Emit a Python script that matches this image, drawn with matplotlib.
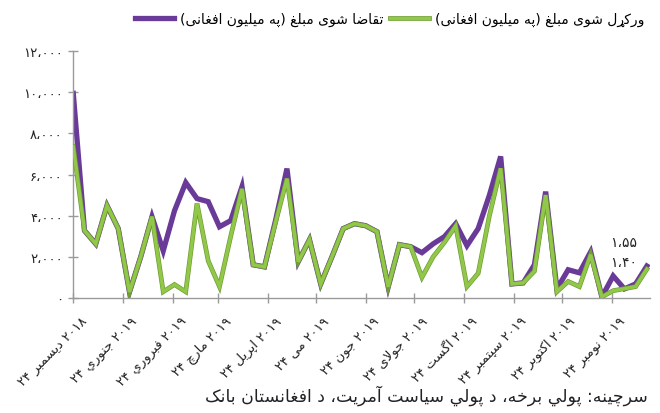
import matplotlib

matplotlib.use("Agg")
import matplotlib.dates as mdates  # noqa: E402
import matplotlib.patheffects as pe  # noqa: E402
import matplotlib.pyplot as plt  # noqa: E402
import pandas as pd  # noqa: E402
from matplotlib.lines import Line2D  # noqa: E402
from matplotlib.transforms import ScaledTranslation  # noqa: E402

plt.rcParams["font.family"] = ["DejaVu Sans"]

# weekly auctions, million Afghani
dates = pd.date_range("2018-12-24", periods=52, freq="7D")
requested = [9950, 3270, 2630, 4490, 3370, 290, 2000, 3950, 2290, 4240, 5610, 4830, 4680,
             3460, 3760, 5410, 1610, 1510, 3800, 6290, 1760, 2830, 680, 2000, 3370, 3610,
             3510, 3220, 540, 2590, 2490, 2200, 2630, 2980, 3610, 2540, 3370, 5000, 6880,
             680, 730, 1610, 5170, 440, 1370, 1220, 2240, 50, 1070, 440, 680, 1550]
disbursed = [7370, 3270, 2630, 4490, 3370, 290, 2000, 3950, 300, 650, 300, 4600, 1800,
             550, 3000, 5300, 1610, 1510, 3700, 5800, 1760, 2830, 680, 2000, 3370, 3610,
             3510, 3220, 540, 2590, 2490, 1000, 2000, 2700, 3500, 550, 1200, 4000, 6300,
             680, 730, 1300, 5000, 300, 800, 550, 2100, 50, 350, 450, 550, 1400]
end_labels = ["۱،۵۵", "۱،۴۰"]

tick_dates = pd.date_range("2018-12-01", periods=12, freq="MS") + pd.Timedelta(days=23)
tick_months = ["دیسمبر", "جنوري", "فبروري", "مارچ", "اپریل", "می", "جون", "جولای",
               "اگست", "سپتمبر", "اکتوبر", "نومبر"]
tick_years = ["۲۰۱۸"] + ["۲۰۱۹"] * 11
tick_day = "۲۴"
y_ticks = [0, 2000, 4000, 6000, 8000, 10000, 12000]
y_ticklabels = ["۰", "۲،۰۰۰", "۴،۰۰۰", "۶،۰۰۰", "۸،۰۰۰", "۱۰،۰۰۰", "۱۲،۰۰۰"]

label_req = "تقاضا شوی مبلغ (په میلیون افغانی)"
label_dis = "ورکړل شوی مبلغ (په میلیون افغانی)"
source = "سرچینه: پولي برخه، د پولي سیاست آمریت، د افغانستان بانک"

# --- minimal Arabic shaping (isolated, final, initial, medial) ---
FORMS = {
    "ا": ("\ufe8d", "\ufe8e", None, None),
    "آ": ("\ufe81", "\ufe82", None, None),
    "د": ("\ufea9", "\ufeaa", None, None),
    "ر": ("\ufead", "\ufeae", None, None),
    "ړ": ("\u0693", "\u0693", None, None),
    "و": ("\ufeed", "\ufeee", None, None),
    "ب": ("\ufe8f", "\ufe90", "\ufe91", "\ufe92"),
    "پ": ("\ufb56", "\ufb57", "\ufb58", "\ufb59"),
    "ت": ("\ufe95", "\ufe96", "\ufe97", "\ufe98"),
    "ج": ("\ufe9d", "\ufe9e", "\ufe9f", "\ufea0"),
    "چ": ("\ufb7a", "\ufb7b", "\ufb7c", "\ufb7d"),
    "خ": ("\ufea5", "\ufea6", "\ufea7", "\ufea8"),
    "س": ("\ufeb1", "\ufeb2", "\ufeb3", "\ufeb4"),
    "ش": ("\ufeb5", "\ufeb6", "\ufeb7", "\ufeb8"),
    "ض": ("\ufebd", "\ufebe", "\ufebf", "\ufec0"),
    "غ": ("\ufecd", "\ufece", "\ufecf", "\ufed0"),
    "ف": ("\ufed1", "\ufed2", "\ufed3", "\ufed4"),
    "ق": ("\ufed5", "\ufed6", "\ufed7", "\ufed8"),
    "ک": ("\ufb8e", "\ufb8f", "\ufb90", "\ufb91"),
    "گ": ("\ufb92", "\ufb93", "\ufb94", "\ufb95"),
    "ل": ("\ufedd", "\ufede", "\ufedf", "\ufee0"),
    "م": ("\ufee1", "\ufee2", "\ufee3", "\ufee4"),
    "ن": ("\ufee5", "\ufee6", "\ufee7", "\ufee8"),
    "ه": ("\ufee9", "\ufeea", "\ufeeb", "\ufeec"),
    "ی": ("\ufbfc", "\ufbfd", "\ufbfe", "\ufbff"),
    "ي": ("\ufef1", "\ufef2", "\ufef3", "\ufef4"),
}
LAM_ALEF = {"ا": ("\ufefb", "\ufefc"), "آ": ("\ufef5", "\ufef6")}
MIRROR = {"(": ")", ")": "("}


def shape(text):
    out = []
    i = 0
    while i < len(text):
        ch = text[i]
        f = FORMS.get(ch)
        if f is None:
            out.append(ch)
            i += 1
            continue
        prev = text[i - 1] if i > 0 else ""
        nxt = text[i + 1] if i + 1 < len(text) else ""
        link_prev = prev in FORMS and FORMS[prev][2] is not None
        if ch == "ل" and nxt in LAM_ALEF:
            out.append(LAM_ALEF[nxt][1 if link_prev else 0])
            i += 2
            continue
        link_next = f[2] is not None and nxt in FORMS
        if link_prev and link_next:
            out.append(f[3])
        elif link_prev:
            out.append(f[1])
        elif link_next:
            out.append(f[2])
        else:
            out.append(f[0])
        i += 1
    return "".join(out)


def rtl(text):
    return "".join(MIRROR.get(c, c) for c in reversed(shape(text)))


PURPLE = "#6a3a98"
GREEN = "#92c84a"
GREEN_EDGE = "#6f9c33"
GREY = "#9a9a9a"

fig = plt.figure(figsize=(6.6, 4.14), dpi=100)
ax = fig.add_axes([0.111, 0.278, 0.874, 0.596])

ax.plot(dates, requested, color=PURPLE, lw=3.8, solid_joinstyle="miter", zorder=2)
ax.plot(dates, disbursed, color=GREEN, lw=2.4, solid_joinstyle="miter", zorder=3,
        path_effects=[pe.Stroke(linewidth=3.4, foreground=GREEN_EDGE), pe.Normal()])

for val, txt, dy in [(requested[-1], end_labels[0], 17), (disbursed[-1], end_labels[1], 5)]:
    ax.annotate(txt, (dates[-1], val), textcoords="offset points", xytext=(-17, dy),
                ha="center", va="center", fontsize=10, color="#222222")

for s in ["top", "right"]:
    ax.spines[s].set_visible(False)
for s in ["left", "bottom"]:
    ax.spines[s].set_color(GREY)
    ax.spines[s].set_linewidth(1.0)
ax.tick_params(axis="both", direction="inout", length=7, color=GREY, width=1.0)
ax.tick_params(axis="y", pad=4)
ax.tick_params(axis="x", pad=8)

ax.set_ylim(0, 12000)
ax.set_xlim(dates[0], dates[-1] + pd.Timedelta(days=2))
ax.set_yticks(y_ticks)
ax.set_yticklabels(y_ticklabels, fontsize=9.5, color="#222222")
ax.set_xticks(tick_dates)
ax.xaxis.set_major_formatter(mdates.DateFormatter("%d"))
ax.set_xticklabels([f"{tick_day} {rtl(m)} {y}" for m, y in zip(tick_months, tick_years)],
                   rotation=45, ha="right", rotation_mode="anchor", fontsize=9.5,
                   color="#222222")
# labels sit a little to the right of their ticks
off = ScaledTranslation(5 / 72, 0, fig.dpi_scale_trans)
for lab in ax.get_xticklabels():
    lab.set_transform(lab.get_transform() + off)

handles = [Line2D([], [], color=PURPLE, lw=3.8),
           Line2D([], [], color=GREEN, lw=2.4,
                  path_effects=[pe.Stroke(linewidth=3.4, foreground=GREEN_EDGE), pe.Normal()])]
fig.legend(handles, [rtl(label_req), rtl(label_dis)], loc="upper right",
           bbox_to_anchor=(0.995, 1.0), ncol=2, frameon=False, fontsize=10,
           handlelength=2.8, handletextpad=0.4, columnspacing=0.5)

fig.text(0.982, 0.045, rtl(source), ha="right", va="center", fontsize=12.5, color="#222222")

fig.savefig("out.png", dpi=100)
